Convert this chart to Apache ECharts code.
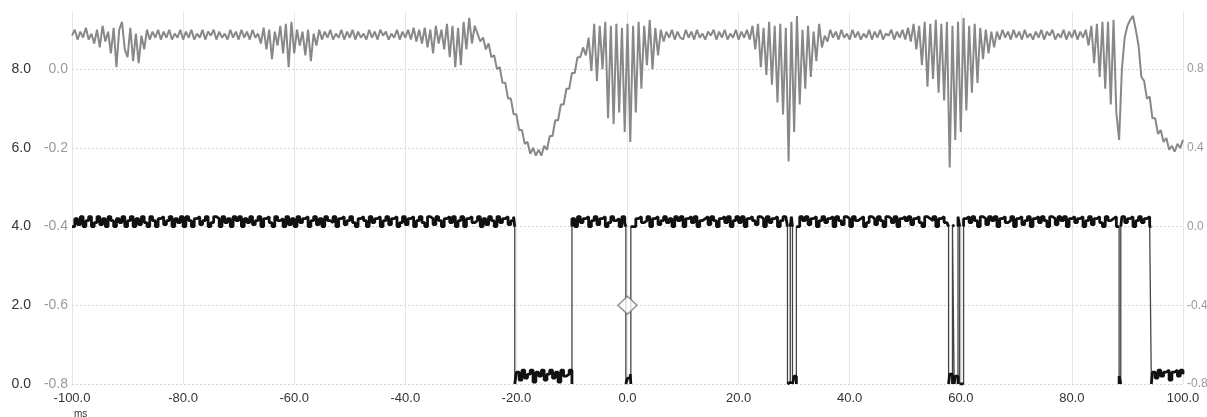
<!DOCTYPE html>
<html>
<head>
<meta charset="utf-8">
<script src="https://cdn.jsdelivr.net/npm/echarts@6.0.0/dist/echarts.min.js"></script>
<style>
  html, body { margin: 0; padding: 0; background: #fff; }
  #chart { width: 1207px; height: 417px; }
</style>
</head>
<body>
<div id="chart"></div>
<script>
// sampling of both traces (ms)
const sampleStart = -100
const sampleStep = 0.5

// analog trace (right axis units), one value per 0.5 ms
const analogValues = [
  .97,1.0,.95,.99,.96,1.01,.95,.98,.93,1.0,.91,1.02,.94,.99,.88,1.01,.81,1.0,1.04,.9,
  .86,1.01,.84,.98,.83,.97,.9,1.0,.95,.99,.96,1.0,.95,.99,.96,1.0,.95,.98,.96,1.0,
  .95,.99,.96,1.0,.95,.98,.96,1.0,.95,.99,.97,1.0,.95,.99,.96,.98,.95,1.0,.96,.99,
  .95,1.0,.96,.99,.95,1.0,.96,.98,.93,1.01,.9,1.0,.85,.99,.92,1.02,.88,1.03,.81,1.04,
  .88,1.0,.92,.99,.87,1.0,.84,.98,.92,1.0,.95,.99,.96,1.0,.95,.98,.96,1.0,.95,.99,
  .96,1.0,.95,.99,.96,.98,.95,1.0,.96,.99,.95,1.0,.97,.99,.95,.98,.96,1.0,.95,.99,
  .96,1.0,.95,1.01,.94,1.0,.93,1.01,.91,1.0,.88,1.02,.93,1.0,.9,1.03,.86,1.02,.81,1.01,
  .82,1.04,.9,1.06,.93,1.02,.98,.94,.96,.9,.93,.86,.87,.8,.81,.73,.73,.65,.65,.57,
  .57,.49,.49,.42,.43,.37,.4,.36,.39,.36,.41,.39,.46,.46,.54,.54,.62,.62,.7,.7,
  .78,.78,.86,.86,.91,.87,.96,.79,1.03,.74,1.02,.8,1.04,.55,1.02,.52,1.03,.58,1.01,.48,
  1.03,.43,1.02,.58,1.04,.7,1.02,.82,1.05,.8,1.01,.87,1.0,.94,.99,.96,1.0,.95,.99,.96,
  .95,1.0,.96,.99,.95,1.0,.96,.98,.95,.99,.97,1.0,.95,.99,.96,1.0,.95,.98,.96,1.0,
  .95,.99,.96,1.0,.95,1.02,.9,1.03,.81,1.01,.77,1.04,.72,1.02,.63,1.03,.57,1.01,.33,1.04,
  .48,1.07,.62,1.0,.7,1.02,.76,.99,.84,1.03,.91,.97,.94,1.0,.96,.99,.95,1.0,.96,.98,
  .95,1.0,.96,.99,.95,.98,.96,1.0,.95,.99,.96,1.0,.95,.98,.97,1.0,.95,.99,.96,1.0,
  .95,1.01,.94,1.03,.9,1.02,.82,1.04,.71,1.03,.75,1.05,.68,1.03,.64,1.04,.3,1.02,.44,1.04,
  .48,1.06,.59,1.02,.68,1.03,.73,1.01,.85,1.0,.88,.99,.91,.99,.95,1.0,.96,.99,.95,1.0,
  .96,.99,.95,1.0,.96,.98,.95,.99,.96,1.0,.95,.99,.97,1.0,.95,.98,.96,1.0,.95,.99,
  .96,1.0,.95,.99,.96,1.0,.92,1.02,.83,1.03,.76,1.04,.7,1.04,.62,1.05,.58,.44,.8,.96,
  1.02,1.05,1.07,1.0,.92,.76,.74,.65,.66,.55,.55,.47,.49,.43,.45,.39,.41,.38,.42,.4,
  .44
]

// digital trace: level switches at these times (ms), starting high
const logicEdges = [-20.3, -10.0, -0.3, 0.6, 28.8, 29.3, 29.7, 30.4, 57.8, 58.5, 58.8, 59.5, 59.8, 60.5, 88.5, 88.8, 94.3]
const logicHigh = 0
const logicLow = -0.8
// ripple on top of the digital level, one value per 0.5 ms
const logicRipple = [
  0,.04,.01,.05,0,.03,.05,0,.02,.05,.01,.04,0,.05,.03,0,.04,.02,.05,0,
  .03,.05,0,.04,.01,.05,.02,0,.05,.03,0,.04,.05,.01,.03,.05,0,.04,.02,.05,
  0,.05,.03,0,.04,.05,.01,.03,.05,0,.02,.05,.04,0,.05,.02,.04,0,.05,.03,
  .05,0,.04,.02,.05,.01,.03,.05,0,.04,.05,.02,0,.05,.03,.04,0,.05,.01,.04,
  0,.05,.02,.04,.05,0,.03,.05,.01,.04,0,.05,.03,.02,.05,0,.04,.05,.01,.03,
  .05,.02,0,.04,.05,.03,0,.05,.02,.04,.05,0,.03,.05,.01,.04,.05,0,.02,.05,
  .01,.04,.05,0,.03,.05,.02,0,.05,.04,.01,.05,.03,0,.04,.05,.02,.05,0,.03,
  .05,0,.04,.05,.02,.03,.05,0,.04,.01,.05,.03,0,.05,.02,.04,.05,.01,.03,.05,
  .06,.02,.07,.03,.05,.07,.01,.06,.04,.07,.02,.05,.07,.03,.06,.01,.07,.04,.05,.07,
  .04,0,.05,.02,.04,.05,0,.03,.05,.01,.04,.05,0,.02,.05,.03,.04,0,.05,.02,
  .03,.05,0,.04,.05,.02,.03,.05,0,.04,.05,.01,.03,.05,.02,.04,0,.05,.03,.05,
  0,.04,.05,.02,.05,0,.03,.04,.05,.01,.05,.03,0,.04,.05,.02,.05,0,.03,.05,
  .02,.05,0,.04,.05,.03,.01,.05,.04,0,.05,.02,.04,.05,0,.03,.05,.04,.01,.05,
  .04,0,.05,.03,.05,.01,.04,.05,0,.03,.05,.02,.04,.05,0,.05,.03,.01,.05,.04,
  0,.05,.03,.04,.05,0,.02,.05,.04,.01,.05,.03,0,.05,.04,.02,.05,0,.04,.05,
  .03,.05,.01,.04,.05,.02,0,.05,.04,.03,.05,0,.04,.05,.02,.03,.05,.01,.04,.05,
  0,.04,.05,.02,.05,.03,0,.05,.04,.01,.05,.03,.05,0,.04,.05,.02,.03,.05,0,
  .04,.05,.01,.03,.05,0,.04,.05,.02,.05,.03,0,.05,.04,.01,.05,.03,.05,0,.04,
  .05,.02,.04,.05,0,.03,.05,.01,.04,.05,.02,0,.05,.03,.04,.05,0,.04,.05,.02,
  .04,.05,0,.03,.05,.02,.04,.05,0,.06,.03,.07,.04,.06,.07,.02,.06,.07,.04,.07,
  .05
]

// cursor marker
const cursorTime = [0]
const cursorValue = [-0.4]

const fontFamily = '"Liberation Sans", Arial, sans-serif'
const fmt = v => (Math.abs(v) < 1e-9 ? '0.0' : v.toFixed(1))

function buildAnalog() {
  return analogValues.map((v, i) => [sampleStart + i * sampleStep, v])
}

// path: full digital trace incl. vertical edges; band: ripple only, broken at edges
function buildLogic() {
  const path = []
  const band = []
  let level = logicHigh
  let e = 0
  logicRipple.forEach((r, i) => {
    const t = sampleStart + i * sampleStep
    while (e < logicEdges.length && logicEdges[e] <= t) {
      path.push([logicEdges[e], level])
      band.push([logicEdges[e], level])
      band.push([logicEdges[e], null])
      level = level === logicHigh ? logicLow : logicHigh
      path.push([logicEdges[e], level])
      band.push([logicEdges[e], level])
      e++
    }
    path.push([t, level + r])
    band.push([t, level + r])
  })
  return { path, band }
}

const logic = buildLogic()
const chart = echarts.init(document.getElementById('chart'))

const option = {
  animation: false,
  backgroundColor: '#fff',
  textStyle: { fontFamily: fontFamily },
  grid: { left: 72, right: 24, top: 12, bottom: 33, outerBoundsMode: 'none' },
  xAxis: {
    type: 'value',
    min: -100,
    max: 100,
    interval: 20,
    axisLine: { show: false },
    axisTick: { show: false },
    axisLabel: { color: '#333', fontSize: 13, margin: 8, formatter: fmt, fontFamily: fontFamily },
    splitLine: { show: true, lineStyle: { color: '#e6e6e6', width: 1, type: 'solid' } }
  },
  yAxis: [
    {
      type: 'value',
      position: 'left',
      offset: 40,
      min: 0,
      max: 9.45,
      interval: 2,
      axisLine: { show: false },
      axisTick: { show: false },
      axisLabel: { color: '#333', fontSize: 14, margin: 1, formatter: fmt, showMaxLabel: false, fontFamily: fontFamily },
      splitLine: { show: false }
    },
    {
      type: 'value',
      position: 'left',
      offset: 0,
      min: -0.8,
      max: 0.145,
      interval: 0.2,
      axisLine: { show: false },
      axisTick: { show: false },
      axisLabel: { color: '#9a9a9a', fontSize: 14, margin: 4, formatter: fmt, showMaxLabel: false, fontFamily: fontFamily },
      splitLine: { show: true, showMaxLine: false, lineStyle: { color: '#d6d6d6', width: 1, type: [2, 2] } }
    },
    {
      type: 'value',
      position: 'right',
      min: -0.8,
      max: 1.09,
      interval: 0.4,
      axisLine: { show: false },
      axisTick: { show: false },
      axisLabel: { color: '#9a9a9a', fontSize: 12, margin: 4, formatter: fmt, showMaxLabel: false, fontFamily: fontFamily },
      splitLine: { show: false }
    }
  ],
  graphic: [
    { type: 'text', left: 74, top: 409, style: { text: 'ms', fill: '#333', fontSize: 10, fontFamily: fontFamily } }
  ],
  series: [
    {
      name: 'analog',
      type: 'line',
      yAxisIndex: 2,
      data: buildAnalog(),
      showSymbol: false,
      lineStyle: { color: '#888', width: 2 },
      z: 3
    },
    {
      name: 'digital edges',
      type: 'line',
      yAxisIndex: 2,
      step: 'end',
      data: logic.path,
      showSymbol: false,
      lineStyle: { color: '#444', width: 1.3 },
      z: 4
    },
    {
      name: 'digital ripple',
      type: 'line',
      yAxisIndex: 2,
      step: 'end',
      connectNulls: false,
      data: logic.band,
      showSymbol: false,
      lineStyle: { color: '#111', width: 2.8 },
      z: 5
    },
    {
      name: 'cursor',
      type: 'scatter',
      yAxisIndex: 2,
      data: cursorTime.map((t, i) => [t, cursorValue[i]]),
      symbol: 'diamond',
      symbolSize: [19, 18],
      itemStyle: { color: '#fff', borderColor: '#777', borderWidth: 1.5 },
      z: 10
    }
  ]
}

chart.setOption(option)
</script>
</body>
</html>
